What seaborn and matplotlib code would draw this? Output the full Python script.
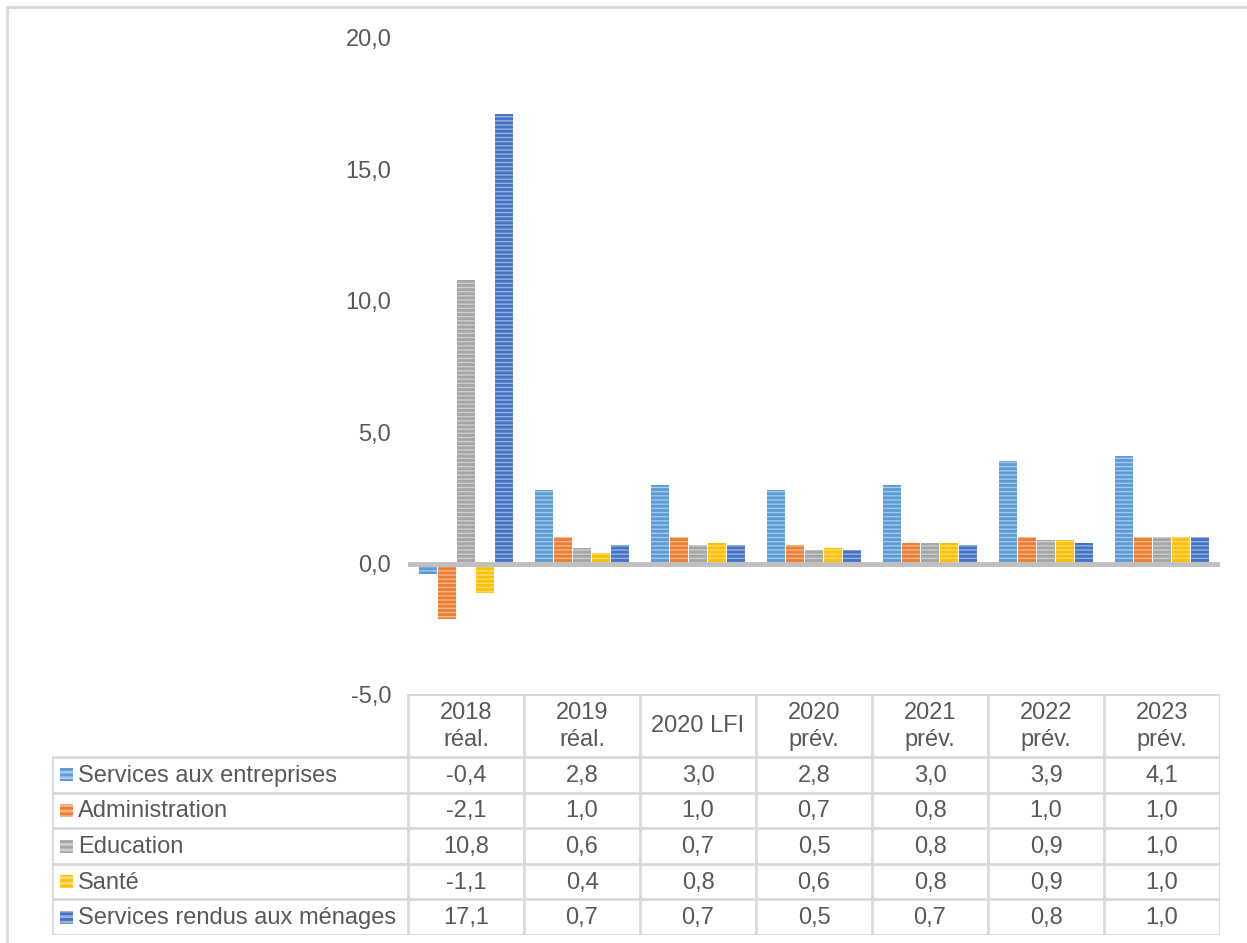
import numpy as np
import pandas as pd
import matplotlib
matplotlib.use("Agg")
import matplotlib.pyplot as plt
from matplotlib.patches import Rectangle
from matplotlib.ticker import FuncFormatter
import seaborn as sns

# data
categories = ["2018\nréal.", "2019\nréal.", "2020 LFI", "2020\nprév.", "2021\nprév.", "2022\nprév.", "2023\nprév."]
series = ["Services aux entreprises", "Administration", "Education", "Santé", "Services rendus aux ménages"]
entreprises = [-0.4, 2.8, 3.0, 2.8, 3.0, 3.9, 4.1]
administration = [-2.1, 1.0, 1.0, 0.7, 0.8, 1.0, 1.0]
education = [10.8, 0.6, 0.7, 0.5, 0.8, 0.9, 1.0]
sante = [-1.1, 0.4, 0.8, 0.6, 0.8, 0.9, 1.0]
menages = [17.1, 0.7, 0.7, 0.5, 0.7, 0.8, 1.0]
values = [entreprises, administration, education, sante, menages]

colors = ["#5B9BD5", "#ED7D31", "#A5A5A5", "#FFC000", "#4472C4"]
text_col = "#595959"
grid_col = "#d9d9d9"
fs = 17

rows = []
for s, vals in zip(series, values):
    for c, v in zip(categories, vals):
        rows.append({"cat": c, "series": s, "val": v})
df = pd.DataFrame(rows)

sns.set_style("white")
plt.rcParams["font.family"] = ["Liberation Sans", "DejaVu Sans"]
plt.rcParams["hatch.linewidth"] = 2.0

W, H = 1247, 943
fig = plt.figure(figsize=(W / 100, H / 100), dpi=100)

def lighten(c, f=0.45):
    r, g, b = matplotlib.colors.to_rgb(c)
    return (r + (1 - r) * f, g + (1 - g) * f, b + (1 - b) * f)

# main chart
x0, x1 = 408, 1220
ytop, ybot = 38, 695
ax = fig.add_axes([x0 / W, 1 - ybot / H, (x1 - x0) / W, (ybot - ytop) / H])
sns.barplot(data=df, x="cat", y="val", hue="series", order=categories, hue_order=series,
            palette=colors, width=0.82, gap=0.1, legend=False, ax=ax)
for cont, col in zip(ax.containers, colors):
    for p in cont:
        p.set_facecolor(lighten(col))
        p.set_edgecolor(col)
        p.set_linewidth(0)
        p.set_hatch("----")
ax.axhline(0, color="#bfbfbf", lw=3.5, zorder=3)
ax.set_xlim(-0.5, len(categories) - 0.5)
ax.set_ylim(-5, 20)
ax.set_yticks([-5, 0, 5, 10, 15, 20])
ax.yaxis.set_major_formatter(FuncFormatter(lambda v, _: f"{v:.1f}".replace(".", ",")))
ax.tick_params(axis="y", length=0, pad=12, labelsize=fs, labelcolor=text_col)
ax.set_xticks([])
ax.set_xlabel("")
ax.set_ylabel("")
for sp in ax.spines.values():
    sp.set_visible(False)

# data table under the chart
tl = 52
t_top, t_head, t_bot = 694, 757, 935
unit = (x1 - x0) / len(categories)
lab_w = (x0 - tl) / unit
tax = fig.add_axes([tl / W, 1 - t_bot / H, (x1 - tl) / W, (t_bot - t_top) / H])
tax.set_xlim(-0.5 - lab_w, len(categories) - 0.5)
tax.set_ylim(t_bot, t_top)
tax.axis("off")
row_h = (t_bot - t_head) / len(series)
lk = dict(color=grid_col, lw=2, solid_capstyle="projecting")
tax.plot([-0.5, len(categories) - 0.5], [t_top, t_top], **lk)
for i in range(len(series) + 1):
    y = t_head + i * row_h
    tax.plot([-0.5 - lab_w, len(categories) - 0.5], [y, y], **lk)
tax.plot([-0.5 - lab_w, -0.5 - lab_w], [t_head, t_bot], **lk)
for j in range(len(categories) + 1):
    tax.plot([j - 0.5, j - 0.5], [t_top, t_bot], **lk)

for j, c in enumerate(categories):
    tax.text(j, (t_top + t_head) / 2 + 1, c, ha="center", va="center", fontsize=fs,
             color=text_col, linespacing=1.25)
for i, (s, vals, col) in enumerate(zip(series, values, colors)):
    yc = t_head + (i + 0.5) * row_h
    sq = 13 / unit
    tax.add_patch(Rectangle((-0.5 - lab_w + 8 / unit, yc - 6.5), sq, 13,
                            facecolor=lighten(col), edgecolor=col, lw=0, hatch="---"))
    tax.text(-0.5 - lab_w + 26 / unit, yc + 1, s, ha="left", va="center", fontsize=fs, color=text_col)
    for j, v in enumerate(vals):
        tax.text(j, yc + 1, f"{v:.1f}".replace(".", ","), ha="center", va="center",
                 fontsize=fs, color=text_col)

# outer frame
fig.patches.append(Rectangle((7 / W, -0.01), 1.02, 1 - 7 / H + 0.01, transform=fig.transFigure,
                             fill=False, edgecolor=grid_col, lw=2))

fig.savefig("out.png", dpi=100)
